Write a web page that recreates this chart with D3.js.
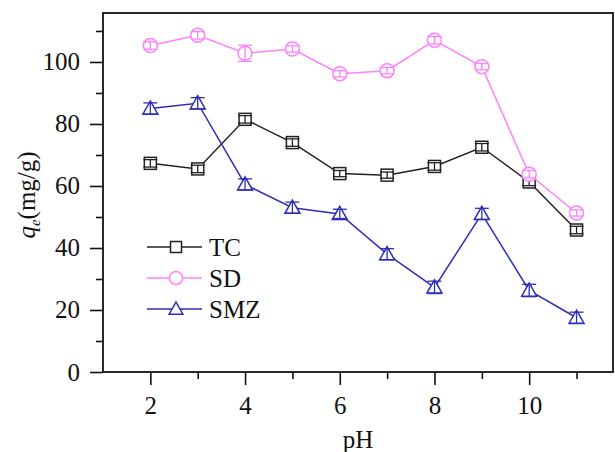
<!DOCTYPE html>
<meta charset="utf-8">
<style>
body { margin: 0; background: #fff; }
text { font-family: "Liberation Serif", "Times New Roman", serif; fill: #111; }
.axis path, .axis line { stroke: #111; stroke-width: 1.6; }
</style>
<svg width="615" height="452"></svg>
<script src="https://d3js.org/d3.v7.min.js"></script>
<script>

// pH values and adsorption capacity (mg/g)
var pH = [2, 3, 4, 5, 6, 7, 8, 9, 10, 11];
var tc  = [67.3, 65.5, 81.5, 74.0, 64.0, 63.5, 66.3, 72.5, 61.3, 45.8];
var sd  = [105.3, 108.6, 102.8, 104.2, 96.2, 97.2, 107.0, 98.5, 63.8, 51.3];
var smz = [85.0, 86.7, 60.5, 53.0, 51.0, 38.0, 27.3, 51.0, 26.3, 17.5];
var tcErr  = [1.2, 1.2, 1.2, 1.2, 1.0, 1.0, 1.2, 1.2, 1.2, 1.2];
var sdErr  = [1.2, 1.2, 2.6, 1.0, 1.0, 1.0, 1.2, 1.0, 1.2, 1.0];
var smzErr = [1.8, 1.8, 1.8, 1.8, 1.5, 1.8, 2.0, 1.8, 2.0, 1.8];
var xTicks = [2, 4, 6, 8, 10];
var yTicks = [0, 20, 40, 60, 80, 100];

var series = [
  {name: "TC", values: tc, err: tcErr, color: "#222222", shape: "square"},
  {name: "SD", values: sd, err: sdErr, color: "#ff80ff", shape: "circle"},
  {name: "SMZ", values: smz, err: smzErr, color: "#2e2eb8", shape: "triangle"}
];

var svg = d3.select("svg"),
    margin = {top: 13, right: 2, bottom: 80, left: 103},
    width = +svg.attr("width") - margin.left - margin.right,
    height = +svg.attr("height") - margin.top - margin.bottom;

var x = d3.scaleLinear().domain([1, 11.77]).range([0, width]),
    y = d3.scaleLinear().domain([0, 115.8]).range([height, 0]);

var g = svg.append("g")
    .attr("transform", "translate(" + margin.left + "," + margin.top + ")");

// minor ticks
g.append("g")
    .attr("class", "axis")
    .attr("transform", "translate(0," + height + ")")
    .call(d3.axisBottom(x).tickValues([3, 5, 7, 9, 11]).tickSize(7).tickFormat(""))
    .select(".domain").remove();
g.append("g")
    .attr("class", "axis")
    .call(d3.axisLeft(y).tickValues([10, 30, 50, 70, 90, 110]).tickSize(7).tickFormat(""))
    .select(".domain").remove();

// major ticks
var xa = g.append("g")
    .attr("class", "axis")
    .attr("transform", "translate(0," + height + ")")
    .call(d3.axisBottom(x).tickValues(xTicks).tickSize(13).tickSizeOuter(0).tickPadding(11));
xa.select(".domain").remove();
xa.selectAll("text").style("font-size", "25px");

var ya = g.append("g")
    .attr("class", "axis")
    .call(d3.axisLeft(y).tickValues(yTicks).tickSize(13).tickSizeOuter(0).tickPadding(10));
ya.select(".domain").remove();
ya.selectAll("text").style("font-size", "25px");

// frame
g.append("rect")
    .attr("width", width)
    .attr("height", height)
    .attr("fill", "none")
    .attr("stroke", "#111")
    .attr("stroke-width", 1.8);

function symbol(sel, shape, color, size) {
  if (shape === "square") {
    sel.append("rect")
      .attr("x", -size / 2).attr("y", -size / 2)
      .attr("width", size).attr("height", size);
  } else if (shape === "circle") {
    sel.append("circle").attr("r", size / 2 + 1);
  } else {
    var w = size * 1.25, h = size * 1.05;
    sel.append("path")
      .attr("d", "M0," + (-h * 0.6) + "L" + (w / 2) + "," + (h * 0.45) + "L" + (-w / 2) + "," + (h * 0.45) + "Z");
  }
  sel.selectAll("rect,circle,path")
    .attr("fill", "#fff")
    .attr("stroke", color)
    .attr("stroke-width", 1.5);
}

var line = d3.line()
    .x(function(d, i) { return x(pH[i]); })
    .y(function(d) { return y(d); });

series.forEach(function(s) {
  var sg = g.append("g");
  sg.append("path")
      .datum(s.values)
      .attr("fill", "none")
      .attr("stroke", s.color)
      .attr("stroke-width", 1.5)
      .attr("d", line);

  var pts = sg.selectAll(".pt")
    .data(s.values)
    .enter().append("g")
      .attr("class", "pt")
      .attr("transform", function(d, i) { return "translate(" + x(pH[i]) + "," + y(d) + ")"; });

  pts.each(function() { symbol(d3.select(this), s.shape, s.color, 12); });

  // error bars
  pts.each(function(d, i) {
    var e = y(d - s.err[i]) - y(d);
    var p = d3.select(this);
    p.append("line").attr("x1", 0).attr("x2", 0).attr("y1", -e).attr("y2", e);
    p.append("line").attr("x1", -7).attr("x2", 7).attr("y1", -e).attr("y2", -e);
    p.append("line").attr("x1", -7).attr("x2", 7).attr("y1", e).attr("y2", e);
    p.selectAll("line").attr("stroke", s.color).attr("stroke-width", 1.3);
  });
});

// legend
var lg = svg.append("g").attr("transform", "translate(147,247)");
series.forEach(function(s, i) {
  var row = lg.append("g").attr("transform", "translate(0," + (i * 31) + ")");
  row.append("line")
      .attr("x1", 0).attr("x2", 55)
      .attr("stroke", s.color)
      .attr("stroke-width", 1.5);
  var m = row.append("g").attr("transform", "translate(29,0)");
  symbol(m, s.shape, s.color, 11);
  row.append("text")
      .attr("x", 62)
      .attr("dy", "0.35em")
      .style("font-size", "25px")
      .text(s.name);
});

// axis titles
svg.append("text")
    .attr("x", 358)
    .attr("y", 448)
    .attr("text-anchor", "middle")
    .style("font-size", "25px")
    .text("pH");

var yt = svg.append("text")
    .attr("transform", "translate(35,195) rotate(-90)")
    .attr("text-anchor", "middle")
    .style("font-size", "25px");
yt.append("tspan").style("font-style", "italic").text("q");
yt.append("tspan").style("font-style", "italic").style("font-size", "15px").attr("dy", 5).text("e");
yt.append("tspan").attr("dy", -5).text("(mg/g)");

</script>
